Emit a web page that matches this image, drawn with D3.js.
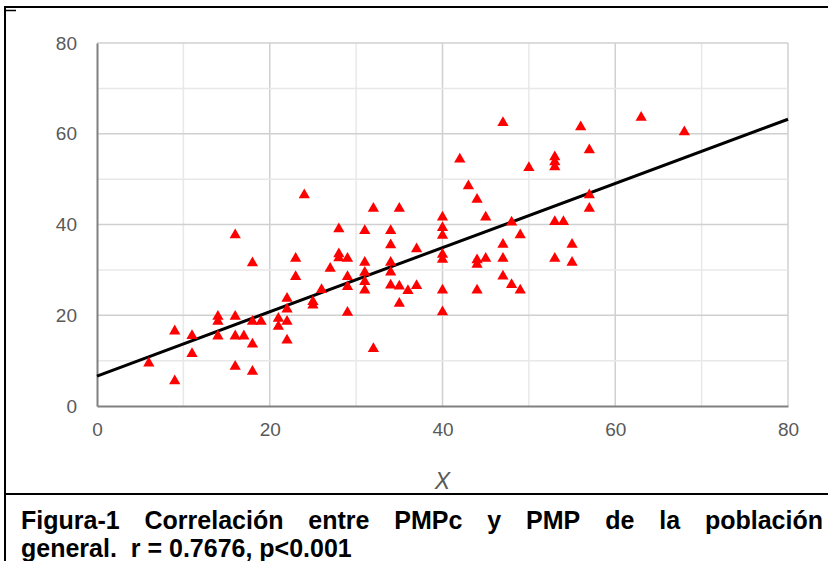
<!DOCTYPE html>
<html>
<head>
<meta charset="utf-8">
<script src="https://cdn.jsdelivr.net/npm/d3@7"></script>
<style>
  body { margin: 0; background: #fff; }
  svg { display: block; }
</style>
</head>
<body>
<script>
// data (x = PMPc, y = PMP)
const points = [
  [6, 9.4], [9, 5.5], [9, 16.5], [11, 15.5], [11, 11.5],
  [14, 19.7], [14, 18.6], [14, 15.4],
  [16, 37.7], [16, 19.7], [16, 15.4], [16, 8.7],
  [17, 15.4],
  [18, 31.5], [18, 18.6], [18, 13.6], [18, 7.6],
  [19, 18.6],
  [21, 19.3], [21, 17.5],
  [22, 23.7], [22, 21.3], [22, 18.6], [22, 14.5],
  [23, 32.5], [23, 28.5],
  [24, 46.5],
  [25, 23], [25, 22.2],
  [26, 25.6],
  [27, 30.3],
  [28, 39], [28, 33.5], [28, 32.6],
  [29, 32.5], [29, 28.5], [29, 26.3], [29, 20.6],
  [31, 38.6], [31, 31.6], [31, 29.4], [31, 27.4], [31, 25.5],
  [32, 43.5], [32, 12.6],
  [34, 38.6], [34, 35.5], [34, 31.6], [34, 29.5], [34, 26.6],
  [35, 43.5], [35, 26.4], [35, 22.6],
  [36, 25.4],
  [37, 34.6], [37, 26.5],
  [40, 41.6], [40, 39.3], [40, 37.6], [40, 33.4], [40, 32.3], [40, 25.5], [40, 20.7],
  [42, 54.4],
  [43, 48.5],
  [44, 45.5], [44, 32.2], [44, 31.2], [44, 25.5],
  [45, 41.6], [45, 32.5],
  [47, 62.4], [47, 35.6], [47, 32.5], [47, 28.6],
  [48, 40.5], [48, 26.7],
  [49, 37.7], [49, 25.5],
  [50, 52.5],
  [53, 54.9], [53, 53.8], [53, 52.7], [53, 40.6], [53, 32.5],
  [54, 40.6],
  [55, 35.6], [55, 31.6],
  [56, 61.5],
  [57, 56.4], [57, 46.5], [57, 43.5],
  [63, 63.6],
  [68, 60.4]
];
// fitted line end points
const fitLine = [[0, 6.6], [80, 63.2]];

const xTicks = [0, 20, 40, 60, 80];
const yTicks = [0, 20, 40, 60, 80];
const gridSteps = [0, 10, 20, 30, 40, 50, 60, 70, 80];

const xTitle = "X";
const captionLine1 = ["Figura-1", "Correlación", "entre", "PMPc", "y", "PMP", "de", "la", "población"];
const captionLine2 = "general.  r = 0.7676, p<0.001";

const W = 828, H = 561;
const plot = {left: 97, right: 788, top: 43, bottom: 406};
const font = "'Liberation Sans', Arial, sans-serif";

const svg = d3.select("body").append("svg")
    .attr("width", W)
    .attr("height", H);

svg.append("rect").attr("width", W).attr("height", H).attr("fill", "#fff");

const x = d3.scaleLinear().domain([0, 80]).range([plot.left, plot.right]);
const y = d3.scaleLinear().domain([0, 80]).range([plot.bottom, plot.top]);

// frame of the figure cell
svg.append("line").attr("x1", 5).attr("x2", W).attr("y1", 7).attr("y2", 7)
  .attr("stroke", "#000").attr("stroke-width", 2);
svg.append("line").attr("x1", 5).attr("x2", 16).attr("y1", 10.5).attr("y2", 10.5)
  .attr("stroke", "#000").attr("stroke-width", 1.5);
svg.append("line").attr("x1", 5).attr("x2", 5).attr("y1", 6).attr("y2", H)
  .attr("stroke", "#000").attr("stroke-width", 2);
svg.append("line").attr("x1", 5).attr("x2", W).attr("y1", 494).attr("y2", 494)
  .attr("stroke", "#000").attr("stroke-width", 2);

// gridlines
const grid = svg.append("g");
grid.selectAll(".vg").data(gridSteps.slice(1)).enter().append("line")
  .attr("x1", d => x(d)).attr("x2", d => x(d))
  .attr("y1", plot.top).attr("y2", plot.bottom)
  .attr("stroke", d => d % 20 === 0 ? "#d0d0d0" : "#e8e8e8")
  .attr("stroke-width", 1.5);
grid.selectAll(".hg").data(gridSteps.slice(1)).enter().append("line")
  .attr("x1", plot.left).attr("x2", plot.right)
  .attr("y1", d => y(d)).attr("y2", d => y(d))
  .attr("stroke", d => d % 20 === 0 ? "#d0d0d0" : "#e8e8e8")
  .attr("stroke-width", 1.5);

// axes
const xAxis = svg.append("g")
    .attr("transform", "translate(0," + plot.bottom + ")")
    .call(d3.axisBottom(x).tickValues(xTicks).tickSize(0).tickPadding(17));
const yAxis = svg.append("g")
    .attr("transform", "translate(" + plot.left + ",0)")
    .call(d3.axisLeft(y).tickValues(yTicks).tickSize(0).tickPadding(20));
[xAxis, yAxis].forEach(a => {
  a.select(".domain").attr("stroke", "#808080").attr("stroke-width", 2);
  a.selectAll("text")
    .attr("fill", "#595959")
    .style("font-family", font)
    .style("font-size", "19px");
});

// regression line
svg.append("path")
  .datum(fitLine)
  .attr("fill", "none")
  .attr("stroke", "#000")
  .attr("stroke-width", 3)
  .attr("d", d3.line().x(d => x(d[0])).y(d => y(d[1])));

// points
svg.append("g").selectAll("path")
  .data(points)
  .enter().append("path")
  .attr("transform", d => "translate(" + x(d[0]) + "," + y(d[1]) + ")")
  .attr("d", d3.symbol().type(d3.symbolTriangle).size(55))
  .attr("fill", "#ff0000");

// axis title
svg.append("text")
  .attr("x", x(40))
  .attr("y", 489)
  .attr("text-anchor", "middle")
  .attr("fill", "#595959")
  .style("font-family", font)
  .style("font-style", "italic")
  .style("font-size", "23px")
  .text(xTitle);

// caption, first line justified
const capStyle = sel => sel
  .attr("fill", "#000")
  .style("font-family", font)
  .style("font-weight", "bold")
  .style("font-size", "25px");

const words = svg.append("g").selectAll("text")
  .data(captionLine1)
  .enter().append("text")
  .attr("y", 529)
  .call(capStyle)
  .text(d => d);
const widths = words.nodes().map(n => n.getComputedTextLength());
const lineL = 21, lineR = 823;
const gap = (lineR - lineL - d3.sum(widths)) / (captionLine1.length - 1);
let cx = lineL;
words.attr("x", (d, i) => { const v = cx; cx += widths[i] + gap; return v; });

svg.append("text")
  .attr("x", lineL)
  .attr("y", 557)
  .style("white-space", "pre")
  .call(capStyle)
  .text(captionLine2);
</script>
</body>
</html>
